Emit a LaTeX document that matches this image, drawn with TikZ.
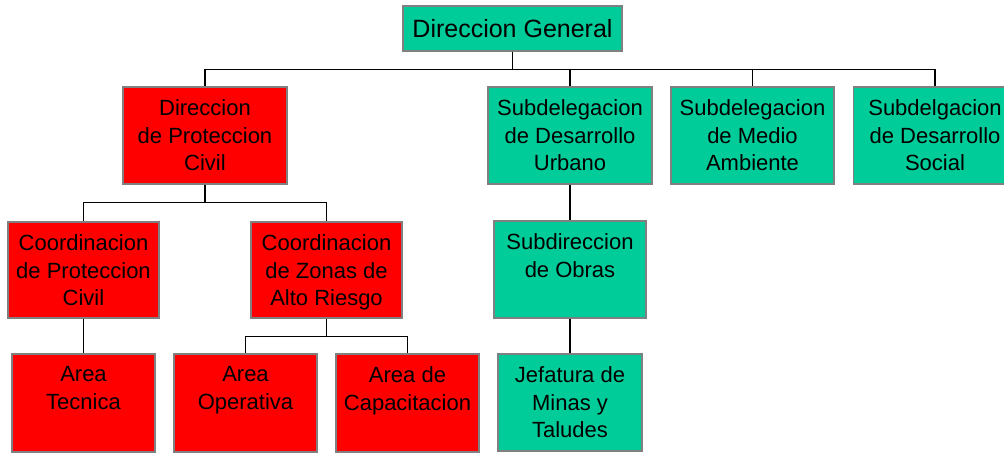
\documentclass[tikz,border=0pt]{standalone}
\usepackage{fontspec}
\setmainfont{Liberation Sans}
\usepackage{xcolor}
\usetikzlibrary{positioning,calc}

\definecolor{orgred}{RGB}{255,0,0}
\definecolor{orggreen}{RGB}{0,204,153}
\definecolor{edgegray}{RGB}{128,128,128}
\newdimen\pxu \pxu=0.75pt
\newcommand{\orgfont}{\fontsize{16.5}{20.6}\selectfont}

\begin{document}
\begin{tikzpicture}[x=0.75pt, y=-0.75pt,
    ubox/.style={rectangle, draw=edgegray, line width=0.8pt, inner sep=0pt},
    redbox/.style={ubox, fill=orgred, minimum height=97\pxu},
    greenbox/.style={ubox, fill=orggreen, minimum height=97\pxu},
    utext/.style={anchor=north, align=center, inner sep=0pt, font=\orgfont, yshift=-13\pxu},
    conn/.style={line width=1pt, black}]
    \useasboundingbox (0,0) rectangle (1004,453);

    % top level
    \node[greenbox, minimum width=219\pxu, minimum height=45\pxu, font=\fontsize{18.75}{22}\selectfont] (dg) at (512.5,28.5) {Direccion General};

    % second level
    \node[redbox, minimum width=164\pxu] (dpc) at (205,135.5) {};
    \node[utext] (dpc-t) at (dpc.north) {Direccion\\de Proteccion\\Civil};
    \node[greenbox, minimum width=164\pxu] (sdu) at (570,135.5) {};
    \node[utext] (sdu-t) at (sdu.north) {Subdelegacion\\de Desarrollo\\Urbano};
    \node[greenbox, minimum width=163\pxu] (sma) at (752.5,135.5) {};
    \node[utext] (sma-t) at (sma.north) {Subdelegacion\\de Medio\\Ambiente};
    \node[greenbox, minimum width=163\pxu] (sds) at (935,135.5) {};
    \node[utext] (sds-t) at (sds.north) {Subdelgacion\\de Desarrollo\\Social};

    % third level
    \node[redbox, minimum width=151\pxu, minimum height=96\pxu] (cpc) at (83.5,270) {};
    \node[utext] (cpc-t) at (cpc.north) {Coordinacion\\de Proteccion\\Civil};
    \node[redbox, minimum width=151\pxu, minimum height=96\pxu] (czar) at (326.5,270) {};
    \node[utext] (czar-t) at (czar.north) {Coordinacion\\de Zonas de\\Alto Riesgo};
    \node[greenbox, minimum width=152\pxu] (so) at (570,269.5) {};
    \node[utext] (so-t) at (so.north) {Subdireccion\\de Obras};

    % fourth level
    \node[redbox, minimum width=143\pxu, minimum height=98\pxu] (tec) at (83.5,403) {};
    \node[utext] (tec-t) at (tec.north) {Area\\Tecnica};
    \node[redbox, minimum width=143\pxu, minimum height=98\pxu] (ope) at (245.5,403) {};
    \node[utext] (ope-t) at (ope.north) {Area\\Operativa};
    \node[redbox, minimum width=143\pxu, minimum height=98\pxu] (capac) at (407.5,403) {};
    \node[utext] (capac-t) at (capac.north) {Area de\\Capacitacion};
    \node[greenbox, minimum width=144\pxu] (jmt) at (570,402.5) {};
    \node[utext] (jmt-t) at (jmt.north) {Jefatura de\\Minas y\\Taludes};

    % connectors
    \draw[conn] (dg.south) -- ++(0,18) -| (dpc.north);
    \draw[conn] (dg.south) -- ++(0,18) -| (sdu.north);
    \draw[conn] (dg.south) -- ++(0,18) -| (sma.north);
    \draw[conn] (dg.south) -- ++(0,18) -| (sds.north);
    \draw[conn] (dpc.south) -- ++(0,18) -| (cpc.north);
    \draw[conn] (dpc.south) -- ++(0,18) -| (czar.north);
    \draw[conn] (sdu) -- (so);
    \draw[conn] (so) -- (jmt);
    \draw[conn] (cpc) -- (tec);
    \draw[conn] (czar.south) -- ++(0,18) -| (ope.north);
    \draw[conn] (czar.south) -- ++(0,18) -| (capac.north);
\end{tikzpicture}
\end{document}
